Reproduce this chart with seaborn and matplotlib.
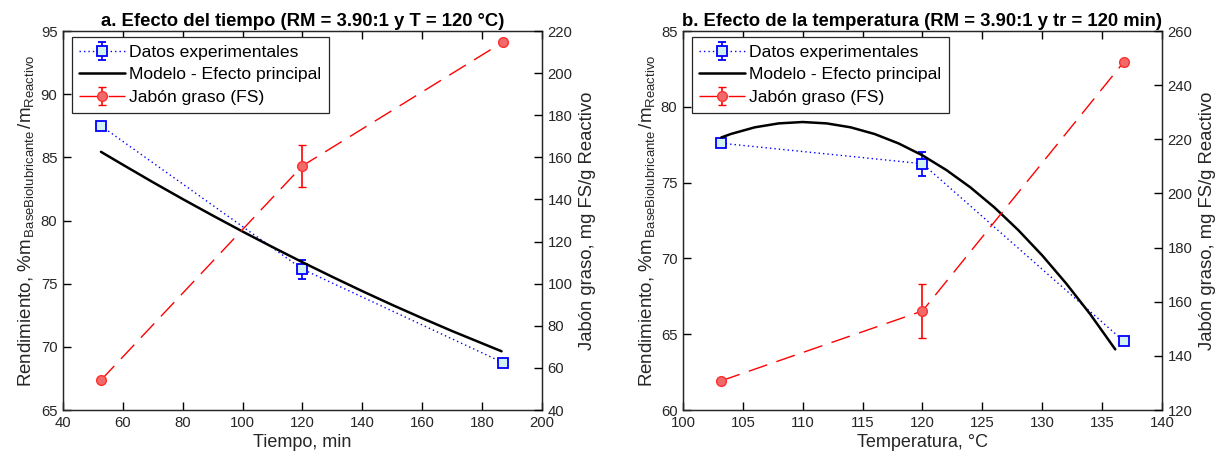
import numpy as np
import pandas as pd
import matplotlib
matplotlib.use("Agg")
import matplotlib.pyplot as plt
import seaborn as sns

# ---------------- data ----------------
tiempo = [52.7, 120.0, 187.0]
rend_tiempo = [87.5, 76.15, 68.75]
rend_tiempo_err = [0.15, 0.75, 0.15]
fs_tiempo = [54.2, 156.0, 214.8]
fs_tiempo_err = [0.8, 10.0, 0.8]
modelo_t_x = [52.7, 60, 70, 80, 90, 100, 110, 120, 130, 140, 150, 160, 170, 186.5]
modelo_t_y = [85.44, 84.42, 83.04, 81.70, 80.40, 79.13, 77.90, 76.70, 75.54,
              74.41, 73.32, 72.27, 71.25, 69.65]

temperatura = [103.2, 120.0, 136.8]
rend_temp = [77.6, 76.25, 64.55]
rend_temp_err = [0.15, 0.8, 0.15]
fs_temp = [130.8, 156.6, 248.5]
fs_temp_err = [0.8, 10.0, 0.8]
modelo_T_x = [103.2, 104, 106, 108, 110, 112, 114, 116, 118, 120, 122, 124,
              126, 128, 130, 132, 134, 136.1]
modelo_T_y = [77.98, 78.21, 78.65, 78.91, 79.0, 78.91, 78.65, 78.21, 77.59,
              76.8, 75.83, 74.69, 73.37, 71.87, 70.2, 68.35, 66.33, 64.0]

labels = ["Datos experimentales", "Modelo - Efecto principal", "Jabón graso (FS)"]
titles = ["a. Efecto del tiempo (RM = 3.90:1 y T = 120 °C)",
          "b. Efecto de la temperatura (RM = 3.90:1 y tr = 120 min)"]
xlabels = ["Tiempo, min", "Temperatura, °C"]
ylabel_left = (r"Rendimiento, %m$_{\mathregular{\,BaseBiolubricante}}$"
               r"$\mathregular{\,}$/m$_{\mathregular{Reactivo}}$")
ylabel_right = "Jabón graso, mg FS/g Reactivo"

# ---------------- style ----------------
sns.set_style("white")
TXT = "#262626"
plt.rcParams.update({
    "font.family": ["Liberation Sans", "DejaVu Sans"],
    "mathtext.fontset": "custom",
    "mathtext.rm": "Liberation Sans",
    "mathtext.it": "Liberation Sans:italic",
    "mathtext.bf": "Liberation Sans:bold",
    "axes.axisbelow": False,
    "xtick.bottom": True, "xtick.top": True,
    "ytick.left": True, "ytick.right": True,
    "xtick.direction": "in", "ytick.direction": "in",
    "xtick.major.size": 6, "ytick.major.size": 6,
    "xtick.major.width": 1.0, "ytick.major.width": 1.0,
    "xtick.color": "black", "ytick.color": "black",
})

fig = plt.figure(figsize=(12.27, 4.61), dpi=100)
ax_a = fig.add_axes([0.0513, 0.1106, 0.3904, 0.822])
ax_b = fig.add_axes([0.5566, 0.1106, 0.3904, 0.822])

TICK = dict(direction="in", length=6, width=1.0, labelsize=10.7,
            color="black", labelcolor=TXT, pad=4)


def panel(ax, x, y, yerr, mx, my, fs, fserr, xlim, xticks, ylim, yticks,
          y2lim, y2ticks, xlabel, title):
    h1 = ax.errorbar(x, y, yerr=yerr, color="blue", ls=(0, (1, 2.2)), lw=1.0,
                     marker="s", ms=6.5, mfc="#d3f1f1", mec="blue", mew=1.3,
                     capsize=3, elinewidth=1.2, capthick=1.2, zorder=3)
    df = pd.DataFrame({"x": mx, "y": my})
    sns.lineplot(data=df, x="x", y="y", ax=ax, color="black", lw=1.8,
                 sort=False, zorder=4)
    h2 = ax.get_lines()[-1]
    ax.set_xlim(*xlim)
    ax.set_ylim(*ylim)
    ax.set_xticks(xticks)
    ax.set_yticks(yticks)
    ax.set_xlabel(xlabel, fontsize=13, color=TXT, labelpad=3)
    ax.set_ylabel(ylabel_left, fontsize=13.5, color=TXT, labelpad=3)
    ax.set_title(title, fontsize=13.3, fontweight="bold", color="black", pad=4)
    for s in ax.spines.values():
        s.set_color(TXT)
        s.set_linewidth(0.9)

    tw = ax.twinx()
    h3 = tw.errorbar(x, fs, yerr=fserr, color="red", ls=(0, (14, 7)), lw=1.0,
                     marker="o", ms=7, mfc="#f06a6a", mec="#ff3030", mew=1.0,
                     capsize=3, elinewidth=1.2, capthick=1.2)
    tw.set_ylim(*y2lim)
    tw.set_yticks(y2ticks)
    tw.set_ylabel(ylabel_right, fontsize=13.3, color=TXT, labelpad=5)
    for s in tw.spines.values():
        s.set_color(TXT)
        s.set_linewidth(0.9)

    ax.tick_params(axis="x", which="major", bottom=True, top=True, **TICK)
    ax.tick_params(axis="y", which="major", left=True, right=False,
                   labelleft=True, labelright=False, **TICK)
    tw.tick_params(axis="y", which="major", right=True, left=False,
                   labelright=True, labelleft=False, **TICK)

    leg = tw.legend([h1, h2, h3], labels, loc="upper left",
                    bbox_to_anchor=(0.018, 0.985), borderaxespad=0,
                    fontsize=12.6, frameon=True, fancybox=False,
                    edgecolor=TXT, framealpha=1, handlelength=2.6,
                    handletextpad=0.25, borderpad=0.45, labelspacing=0.42)
    leg.get_frame().set_linewidth(0.9)
    for t in leg.get_texts():
        t.set_color("black")


panel(ax_a, tiempo, rend_tiempo, rend_tiempo_err, modelo_t_x, modelo_t_y,
      fs_tiempo, fs_tiempo_err, (40, 200), np.arange(40, 201, 20),
      (65, 95), np.arange(65, 96, 5), (40, 220), np.arange(40, 221, 20),
      xlabels[0], titles[0])
panel(ax_b, temperatura, rend_temp, rend_temp_err, modelo_T_x, modelo_T_y,
      fs_temp, fs_temp_err, (100, 140), np.arange(100, 141, 5),
      (60, 85), np.arange(60, 86, 5), (120, 260), np.arange(120, 261, 20),
      xlabels[1], titles[1])

fig.savefig("out.png", dpi=100)
